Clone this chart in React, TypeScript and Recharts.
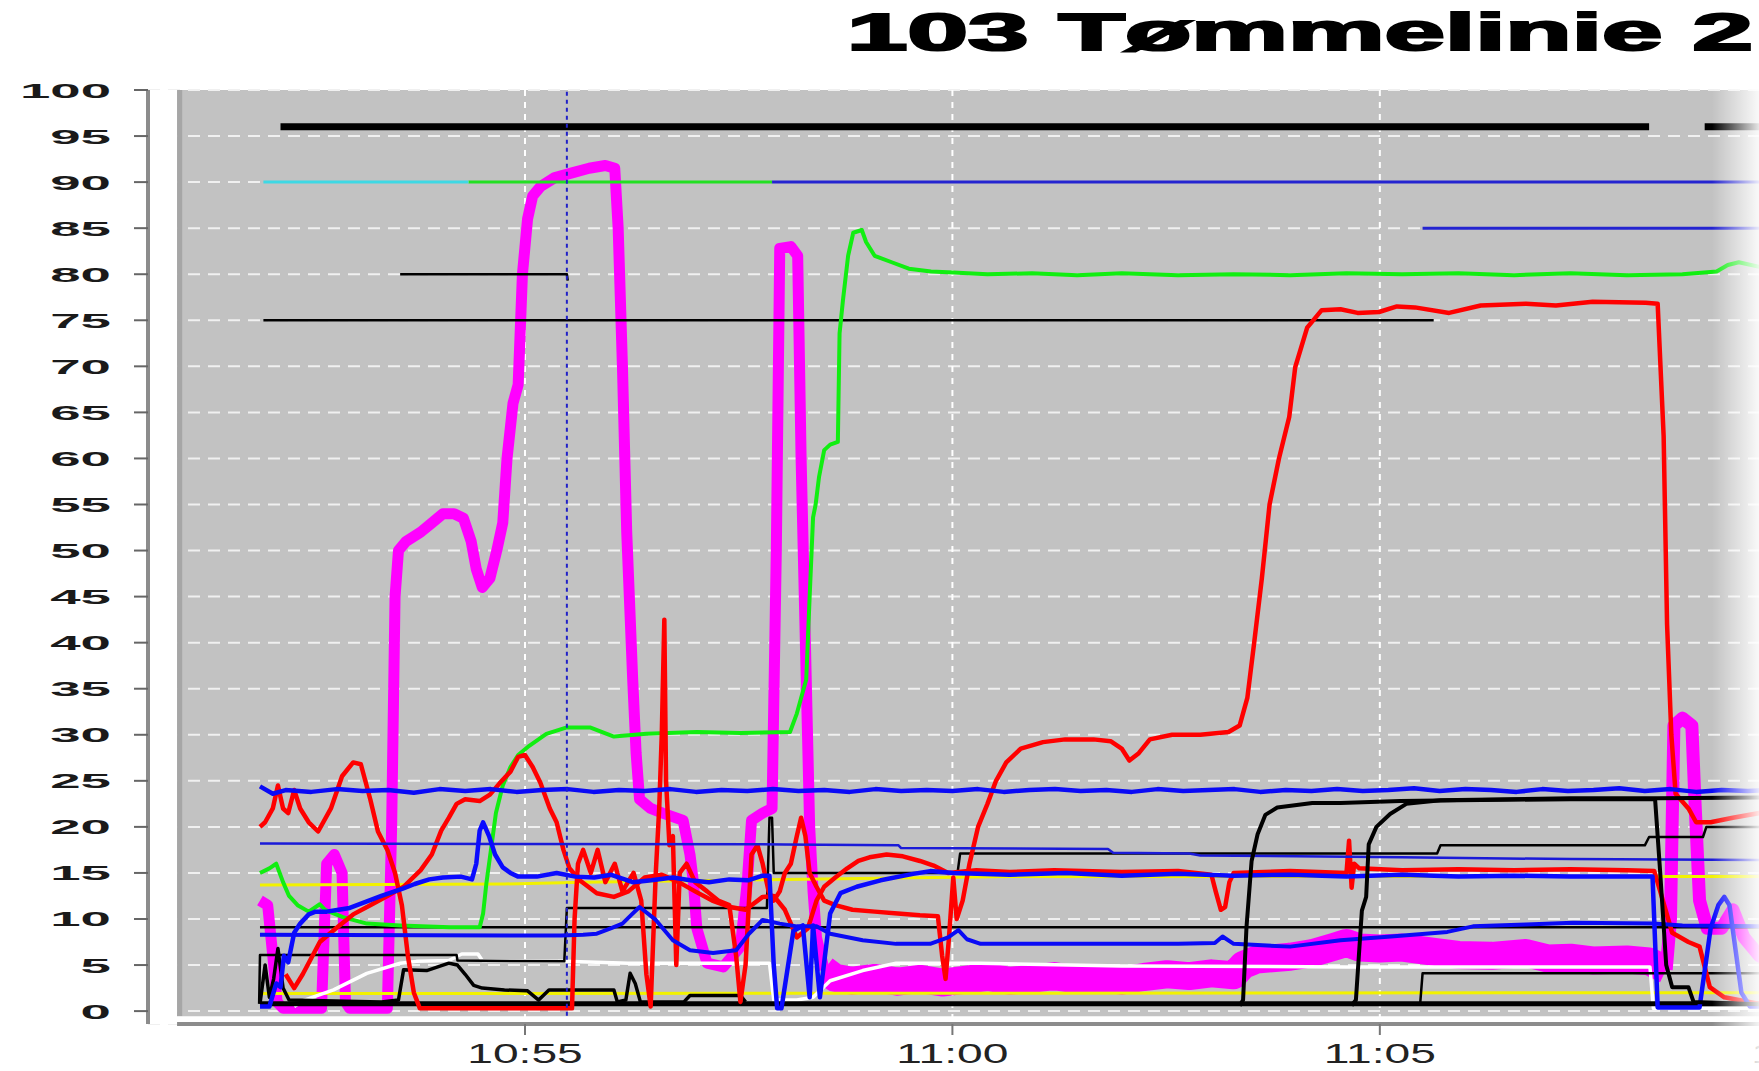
import { CartesianGrid, ComposedChart, Line, ReferenceArea, ReferenceLine, XAxis, YAxis } from 'recharts';

// time = minutes after 10:00, value = %
const title = '103 Tømmelinie 2';
const yTicks = [0, 5, 10, 15, 20, 25, 30, 35, 40, 45, 50, 55, 60, 65, 70, 75, 80, 85, 90, 95, 100];
const xTicks = [55, 60, 65, 70];
const xLabels: Record<number, string> = { 55: '10:55', 60: '11:00', 65: '11:05', 70: '11:10' };

const topBarA = [[52.14, 96], [68.15, 96]];
const topBarB = [[68.8, 96], [70.5, 96]];
const setCyan = [[51.94, 90], [54.34, 90]];
const setGreen = [[54.34, 90], [57.89, 90]];
const setBlue90 = [[57.89, 90], [70.5, 90]];
const setBlue85 = [[65.5, 85], [70.5, 85]];
const black80 = [[53.54, 80], [55.49, 80], [55.5, 79.3]];
const black75 = [[51.94, 75], [65.63, 75]];

const magentaMain = [
  [51.9, 12], [51.99, 11.5], [52.05, 6], [52.1, 1], [52.17, 0.3], [52.62, 0.3], [52.68, 16], [52.77, 17],
  [52.86, 15], [52.9, 1], [52.95, 0.3], [53.39, 0.3], [53.44, 20], [53.48, 45], [53.52, 50], [53.61, 51],
  [53.78, 52], [53.91, 53], [54.04, 54], [54.17, 54], [54.28, 53.5], [54.37, 51], [54.43, 48], [54.5, 46],
  [54.59, 47], [54.67, 50], [54.74, 53], [54.79, 60], [54.86, 66], [54.92, 68], [54.97, 80], [55.03, 86],
  [55.09, 88.5], [55.18, 89.5], [55.35, 90.5], [55.55, 91], [55.75, 91.5], [55.94, 91.8], [56.05, 91.5],
  [56.09, 85], [56.14, 70], [56.19, 52], [56.26, 36], [56.3, 28], [56.34, 23], [56.47, 22], [56.61, 21.5],
  [56.85, 20.7], [56.93, 17], [56.97, 14], [57.01, 9], [57.13, 5.2], [57.32, 4.8], [57.52, 7], [57.6, 14],
  [57.65, 20.7], [57.78, 21.5], [57.89, 22], [57.94, 50], [57.98, 82.8], [58.11, 83], [58.19, 82],
  [58.23, 60], [58.28, 40], [58.33, 20], [58.37, 13], [58.41, 8], [58.5, 4.5],
];
const magentaBand = [
  [58.5, 4.5], [58.63, 3.6], [58.83, 3.3], [59.09, 3.6], [59.36, 3.2], [59.62, 3.5], [59.88, 3.1], [60.14, 3.4],
  [60.41, 3.7], [60.67, 3.3], [60.93, 3.5], [61.19, 3.8], [61.46, 3.4], [61.72, 3.6], [61.98, 3.3], [62.24, 3.7],
  [62.51, 4.0], [62.77, 3.8], [63.03, 4.1], [63.29, 3.9], [63.4, 5.0], [63.56, 5.6], [63.95, 5.9], [64.21, 6.3],
  [64.47, 7.0], [64.61, 7.4], [64.76, 6.9], [65.0, 6.8], [65.26, 6.9], [65.66, 6.4], [65.92, 6.1], [66.31, 6.0],
  [66.71, 6.3], [66.97, 5.7], [67.23, 5.8], [67.49, 5.5], [67.89, 5.6], [68.15, 5.4], [68.35, 4.5],
];
const magentaTail = [
  [68.35, 4.5], [68.4, 10], [68.44, 31], [68.54, 31.8], [68.65, 31], [68.69, 22], [68.74, 12], [68.83, 9],
  [69.0, 9], [69.13, 11], [69.26, 8], [69.44, 6], [69.72, 5],
];

const green = [
  [51.9, 15], [52.01, 15.5], [52.09, 16], [52.17, 14], [52.24, 12.5], [52.34, 11.5], [52.47, 10.8], [52.6, 11.6],
  [52.66, 11], [52.87, 10.2], [53.15, 9.5], [53.54, 9.3], [54.12, 9.1], [54.47, 9.1], [54.51, 10.6], [54.55, 14],
  [54.59, 16.7], [54.66, 21.5], [54.74, 24.5], [54.83, 26.5], [54.92, 27.8], [55.05, 28.8], [55.25, 30.1],
  [55.49, 30.8], [55.76, 30.8], [56.04, 29.8], [56.42, 30.1], [57.01, 30.3], [57.52, 30.2], [58.1, 30.3],
  [58.18, 32.3], [58.29, 36], [58.33, 45], [58.37, 53.6], [58.4, 55], [58.44, 58], [58.5, 60.9], [58.57, 61.5],
  [58.66, 61.8], [58.68, 73.6], [58.72, 77.2], [58.78, 82], [58.84, 84.5], [58.94, 84.8], [58.99, 83.5],
  [59.09, 82], [59.29, 81.3], [59.49, 80.6], [59.75, 80.3], [60.01, 80.2], [60.41, 80.0], [60.93, 80.1],
  [61.46, 79.9], [61.98, 80.1], [62.64, 79.9], [63.29, 80.0], [63.95, 79.9], [64.61, 80.1], [65.26, 80.0],
  [65.92, 80.1], [66.57, 79.9], [67.23, 80.1], [67.89, 79.9], [68.54, 80.0], [68.94, 80.3], [69.07, 81.0],
  [69.2, 81.3], [69.44, 80.8], [70.5, 80.5],
];

const redMain = [
  [51.9, 20], [51.96, 20.5], [52.05, 22], [52.11, 24.5], [52.17, 22], [52.23, 21.5], [52.3, 24], [52.37, 22],
  [52.47, 20.5], [52.58, 19.5], [52.73, 22], [52.86, 25.5], [52.99, 27], [53.08, 26.8], [53.19, 23], [53.28, 19.5],
  [53.39, 17.5], [53.48, 15], [53.56, 11.5], [53.63, 6], [53.7, 2], [53.77, 0.3], [55.55, 0.3], [55.58, 10],
  [55.62, 16], [55.68, 17.5], [55.77, 15], [55.85, 17.5], [55.94, 14], [56.05, 16], [56.14, 13], [56.27, 15],
  [56.36, 12], [56.42, 4], [56.47, 0.5], [56.53, 15], [56.57, 22], [56.6, 30], [56.63, 42.5], [56.65, 25],
  [56.69, 18], [56.73, 19], [56.77, 5], [56.81, 15], [56.89, 16], [56.99, 14], [57.13, 13], [57.26, 12],
  [57.39, 11.5], [57.47, 6], [57.52, 1], [57.58, 5], [57.65, 17], [57.72, 18], [57.78, 16], [57.85, 13],
  [57.91, 12], [57.98, 13], [58.04, 15], [58.11, 16], [58.18, 19], [58.23, 21], [58.28, 19], [58.33, 15],
  [58.41, 13.5], [58.5, 12], [58.63, 11.5], [58.83, 11], [59.09, 10.8], [59.36, 10.6], [59.62, 10.4],
  [59.83, 10.3], [59.88, 6], [59.92, 3.5], [59.96, 8], [60.01, 14.5], [60.05, 10], [60.12, 12], [60.2, 16],
  [60.3, 20], [60.41, 22.5], [60.51, 25], [60.63, 27], [60.8, 28.5], [61.06, 29.2], [61.32, 29.5], [61.65, 29.5],
  [61.85, 29.3], [61.98, 28.5], [62.07, 27.2], [62.18, 28], [62.31, 29.5], [62.57, 30], [62.9, 30], [63.23, 30.3],
  [63.36, 31], [63.45, 34], [63.53, 40], [63.62, 47], [63.71, 55], [63.82, 60], [63.94, 64.5], [64.01, 69.9],
  [64.15, 74.2], [64.32, 76.1], [64.54, 76.2], [64.74, 75.8], [64.99, 75.9], [65.2, 76.5], [65.41, 76.4],
  [65.81, 75.8], [66.18, 76.6], [66.71, 76.8], [67.06, 76.6], [67.49, 77], [68.11, 76.9], [68.25, 76.8],
  [68.32, 62.4], [68.36, 42], [68.41, 30], [68.46, 23.6], [68.61, 22], [68.7, 20.5], [68.87, 20.5], [69.13, 21],
  [69.44, 21.5], [69.86, 22],
];
const redSecond = [
  [52.2, 4], [52.3, 2.5], [52.4, 4], [52.6, 7.5], [52.79, 9], [52.99, 10.5], [53.19, 11.5], [53.39, 12.5],
  [53.58, 13.5], [53.78, 15.3], [53.91, 17], [54.02, 19.6], [54.11, 21], [54.2, 22.5], [54.3, 23], [54.47, 22.8],
  [54.59, 23.5], [54.7, 24.7], [54.83, 26], [54.92, 27.6], [55.0, 27.8], [55.09, 26.5], [55.18, 24.8], [55.29, 22],
  [55.37, 20.5], [55.45, 17.5], [55.52, 15.5], [55.64, 14.2], [55.84, 12.8], [56.04, 12.4], [56.21, 13],
  [56.4, 14.5], [56.6, 14.8], [56.8, 14], [56.99, 13], [57.19, 12], [57.4, 11.3], [57.58, 11], [57.78, 12.4],
  [57.91, 12.5], [58.04, 11], [58.18, 8], [58.31, 9], [58.41, 12], [58.5, 13.5], [58.63, 14.5], [58.77, 15.5],
  [58.9, 16.3], [59.03, 16.7], [59.23, 17], [59.42, 16.8], [59.62, 16.3], [59.78, 15.8], [59.95, 15], [60.28, 15.3],
  [60.67, 15.1], [61.19, 15.3], [61.98, 15.1], [62.64, 15.2], [63.03, 14.8], [63.08, 13], [63.14, 11], [63.19, 11.3],
  [63.24, 14], [63.29, 15], [63.95, 15.2], [64.61, 15], [64.64, 18.5], [64.67, 13.4], [64.7, 16], [64.76, 15.5],
  [65.26, 15.3], [65.92, 15.4], [66.57, 15.3], [67.23, 15.4], [67.89, 15.3], [68.21, 15.2], [68.28, 13],
  [68.42, 8.5], [68.61, 7.5], [68.74, 7], [68.86, 2.6], [69.03, 1.5], [69.44, 0.8], [69.86, 0.6],
];

const blue24 = [
  [51.9, 24.4], [52.05, 23.6], [52.2, 24.0], [52.5, 23.8], [52.8, 24.1], [53.1, 23.9], [53.4, 24.0], [53.7, 23.7],
  [54.0, 24.1], [54.3, 23.9], [54.6, 24.1], [54.9, 23.8], [55.2, 24.0], [55.5, 24.1], [55.8, 23.8], [56.1, 24.0],
  [56.4, 23.9], [56.7, 24.1], [57.0, 23.8], [57.3, 24.0], [57.6, 23.9], [57.9, 24.1], [58.2, 23.9], [58.5, 24.0],
  [58.8, 23.8], [59.1, 24.1], [59.4, 23.9], [59.7, 24.0], [60.0, 23.9], [60.3, 24.1], [60.6, 23.8], [60.9, 24.0],
  [61.2, 24.1], [61.5, 23.9], [61.8, 24.0], [62.1, 23.8], [62.4, 24.1], [62.7, 23.9], [63.0, 24.0], [63.3, 24.1],
  [63.6, 23.8], [63.9, 24.0], [64.2, 23.9], [64.5, 24.1], [64.8, 23.9], [65.1, 24.0], [65.4, 24.2], [65.7, 23.9],
  [66.0, 24.1], [66.3, 24.0], [66.6, 23.8], [66.9, 24.1], [67.2, 23.9], [67.5, 24.0], [67.8, 24.2], [68.1, 23.9],
  [68.4, 24.1], [68.7, 23.8], [69.0, 24.0], [69.3, 23.9], [69.6, 24.0], [70.5, 24.0],
];
const blue18 = [
  [51.9, 18.2], [58.04, 18.1], [59.37, 18.0], [59.4, 17.7], [61.82, 17.6], [61.88, 17.2], [62.77, 17.1],
  [62.9, 16.9], [65.26, 16.7], [67.23, 16.5], [69.44, 16.4], [70.5, 16.4],
];
const blueFlow = [
  [51.9, 0.5], [52.01, 0.5], [52.09, 3], [52.14, 2.6], [52.18, 6], [52.23, 5.3], [52.3, 8.5], [52.37, 9.5],
  [52.47, 10.5], [52.55, 10.8], [52.68, 10.8], [52.82, 11], [52.95, 11.2], [53.12, 11.8], [53.32, 12.5],
  [53.57, 13.3], [53.71, 13.8], [53.88, 14.3], [54.04, 14.5], [54.25, 14.6], [54.38, 14.3], [54.43, 16],
  [54.47, 19.6], [54.51, 20.5], [54.58, 19], [54.65, 17], [54.74, 15.6], [54.83, 15], [54.92, 14.6], [55.14, 14.6],
  [55.37, 15], [55.59, 14.6], [55.81, 14.5], [56.01, 14.8], [56.26, 14], [56.48, 14.2], [56.73, 14.5],
  [56.93, 14.2], [57.15, 14], [57.39, 14.3], [57.61, 14.2], [57.78, 14.7], [57.86, 14.7], [57.91, 5], [57.95, 0.3],
  [58.0, 0.3], [58.14, 8.7], [58.25, 9.3], [58.33, 1.5], [58.37, 9.3], [58.45, 1.5], [58.57, 10.6], [58.69, 12.8],
  [58.88, 13.5], [59.16, 14.2], [59.54, 14.9], [59.74, 15.2], [60.01, 15], [60.67, 14.8], [61.33, 15.0],
  [61.98, 14.7], [62.64, 14.9], [63.29, 14.7], [63.95, 14.8], [64.61, 14.6], [65.26, 14.8], [65.92, 14.6],
  [66.57, 14.7], [67.23, 14.6], [68.19, 14.6], [68.25, 0.4], [68.74, 0.4], [68.87, 9], [68.96, 11.5],
  [69.03, 12.4], [69.09, 11.5], [69.23, 2], [69.33, 0.5], [69.86, 0.5],
];
const blueLow = [
  [51.9, 8.3], [55.42, 8.2], [55.68, 8.3], [55.84, 8.4], [56.01, 9], [56.14, 9.5], [56.25, 10.5], [56.34, 11.3],
  [56.53, 9.9], [56.73, 7.7], [56.93, 6.6], [57.2, 6.3], [57.47, 6.6], [57.62, 8.4], [57.78, 9.9], [57.98, 9.5],
  [58.18, 9.2], [58.41, 9.2], [58.57, 8.4], [58.95, 7.7], [59.34, 7.3], [59.74, 7.3], [59.95, 8], [60.07, 8.8],
  [60.17, 7.8], [60.33, 7.3], [61.33, 7.3], [62.64, 7.3], [63.07, 7.4], [63.16, 8.1], [63.29, 7.3], [63.95, 7.0],
  [64.54, 7.7], [65.13, 8.1], [65.79, 8.6], [66.09, 9.2], [66.71, 9.4], [67.26, 9.6], [68.2, 9.5], [68.54, 9.3],
  [69.44, 9.2], [70.5, 9.2],
];

const black9 = [[51.9, 9.1], [70.5, 9.1]];
const blackStep = [
  [51.89, 0.8], [51.9, 6.1], [54.2, 6.1], [54.21, 5.5], [55.46, 5.4], [55.49, 11.2], [57.83, 11.2], [57.86, 21],
  [57.89, 21], [57.91, 15], [60.06, 15], [60.09, 17.1], [65.67, 17.1], [65.71, 18], [68.1, 18], [68.15, 18.9],
  [68.78, 18.9], [68.82, 20], [70.5, 20],
];
const blackRiseA = [
  [63.36, 0.6], [63.4, 1.2], [63.44, 9.1], [63.5, 16.3], [63.57, 19.2], [63.66, 21.3], [63.8, 22.1], [64.21, 22.6],
  [64.54, 22.6], [65.24, 22.8], [65.92, 22.9], [67.23, 23.0], [68.22, 23.0], [68.28, 15], [68.35, 5], [68.42, 2.6],
  [68.61, 2.6], [68.67, 1], [69.86, 0.6],
];
const blackRiseB = [
  [64.67, 0.6], [64.72, 1.2], [64.79, 10.9], [64.84, 12.4], [64.87, 18.1], [64.96, 20], [65.12, 21.4],
  [65.31, 22.5], [65.71, 22.9], [67.23, 23.1], [68.25, 23.1], [69.44, 23.2], [70.5, 23.2],
];
const black4 = [[65.47, 0.6], [65.5, 4.1], [70.5, 4.1]];
const blackBase = [[51.9, 0.8], [70.5, 0.8]];
const blackSmall = [
  [51.9, 0.8], [51.96, 5], [52.01, 1.5], [52.06, 3.5], [52.11, 6.8], [52.17, 2.5], [52.24, 1.2], [53.32, 1],
  [53.52, 1.2], [53.58, 4.5], [53.85, 4.4], [54.11, 5.2], [54.21, 5], [54.3, 4], [54.4, 2.8], [54.5, 2.5],
  [54.76, 2.3], [55.03, 2.2], [55.16, 1.2], [55.28, 2.3], [56.04, 2.3], [56.08, 1], [56.18, 1.2], [56.23, 4.1],
  [56.29, 3], [56.35, 1], [56.86, 1], [56.93, 1.7], [57.52, 1.7], [57.58, 1],
];
const white = [
  [52.3, 0.5], [52.42, 1.2], [52.76, 2.3], [53.15, 4.1], [53.54, 5.2], [53.73, 5.4], [54.11, 5.5], [54.26, 6.2],
  [54.45, 6.2], [54.5, 5.5], [55.46, 5.4], [56.21, 5.2], [57.86, 5.2], [57.91, 1.2], [58.18, 1.2], [58.37, 1.5],
  [58.57, 3.3], [58.95, 4.4], [59.34, 5.2], [60.33, 5.2], [61.98, 4.9], [64.61, 4.8], [68.16, 4.8], [68.2, 0.3],
  [69.44, 0.3],
];
const yellowHigh = [[51.9, 13.7], [54.76, 13.8], [55.68, 14.0], [58.04, 14.3], [60.67, 14.6], [70.5, 14.6]];
const yellowLow = [[51.9, 1.9], [70.5, 2.0]];

const pts = (rows: number[][]) => rows.map(([t, v]) => ({ t, v }));

const series = [
  { name: 'magentaBand', rows: magentaBand, color: '#ff00ff', width: 28 },
  { name: 'magentaMain', rows: magentaMain, color: '#ff00ff', width: 11 },
  { name: 'magentaTail', rows: magentaTail, color: '#ff00ff', width: 13 },
  { name: 'yellowLow', rows: yellowLow, color: '#f2f200', width: 3 },
  { name: 'yellowHigh', rows: yellowHigh, color: '#f2f200', width: 3 },
  { name: 'white', rows: white, color: '#ffffff', width: 3.5 },
  { name: 'blackBase', rows: blackBase, color: '#000000', width: 5 },
  { name: 'blackSmall', rows: blackSmall, color: '#000000', width: 3.5 },
  { name: 'black9', rows: black9, color: '#000000', width: 2.5 },
  { name: 'black4', rows: black4, color: '#000000', width: 2.5 },
  { name: 'blackStep', rows: blackStep, color: '#000000', width: 2.5 },
  { name: 'black75', rows: black75, color: '#000000', width: 2.5 },
  { name: 'black80', rows: black80, color: '#000000', width: 2.5 },
  { name: 'green', rows: green, color: '#11ee11', width: 4 },
  { name: 'redSecond', rows: redSecond, color: '#ff0000', width: 4.5 },
  { name: 'redMain', rows: redMain, color: '#ff0000', width: 4.5 },
  { name: 'blue18', rows: blue18, color: '#1a1ad8', width: 2.5 },
  { name: 'blueLow', rows: blueLow, color: '#0a0af5', width: 4 },
  { name: 'blueFlow', rows: blueFlow, color: '#0a0aff', width: 4.5 },
  { name: 'blue24', rows: blue24, color: '#0a0af5', width: 4.5 },
  { name: 'setCyan', rows: setCyan, color: '#3ed8e4', width: 3 },
  { name: 'setGreen', rows: setGreen, color: '#22e022', width: 3 },
  { name: 'setBlue90', rows: setBlue90, color: '#2424d0', width: 3 },
  { name: 'setBlue85', rows: setBlue85, color: '#2424d0', width: 3 },
  { name: 'topBarA', rows: topBarA, color: '#000000', width: 7 },
  { name: 'topBarB', rows: topBarB, color: '#000000', width: 7 },
  { name: 'blackRiseA', rows: blackRiseA, color: '#000000', width: 4 },
  { name: 'blackRiseB', rows: blackRiseB, color: '#000000', width: 4 },
];

const YTick = ({ x, y, payload }: any) => (
  <g transform={`translate(${x},${y})`}>
    <text
      x={0}
      y={0}
      dy={7.5}
      textAnchor="end"
      transform="scale(2.6,1)"
      fontFamily="'Liberation Sans', Arial, sans-serif"
      fontWeight={700}
      fontSize={21}
      fill="#1a1a1a"
    >
      {payload.value}
    </text>
  </g>
);

const XTick = ({ x, y, payload }: any) => (
  <g transform={`translate(${x},${y})`}>
    <text
      x={0}
      y={0}
      dy={26}
      textAnchor="middle"
      transform="scale(1.65,1)"
      fontFamily="'Liberation Sans', Arial, sans-serif"
      fontSize={28}
      fill="#222"
    >
      {xLabels[payload.value]}
    </text>
  </g>
);

export default function App() {
  return (
    <div
      style={{
        position: 'fixed',
        left: 0,
        top: 0,
        width: 1759,
        height: 1071,
        overflow: 'hidden',
        background: '#fff',
      }}
    >
      <ComposedChart width={1860} height={1071} margin={{ top: 90, right: 10, bottom: 2, left: 18 }}>
        <CartesianGrid
          vertical={false}
          fill="#c2c2c2"
          stroke="#f0f0f0"
          strokeWidth={2}
          strokeDasharray="12 8"
        />
        <CartesianGrid horizontal={false} stroke="#ffffff" strokeWidth={2} strokeDasharray="6 6" />
        <XAxis
          type="number"
          dataKey="t"
          domain={[50.59, 70.5]}
          allowDataOverflow
          ticks={xTicks}
          tick={(p: any) => <XTick {...p} />}
          axisLine={false}
          tickLine={{ stroke: '#777', strokeWidth: 2 }}
          tickSize={11}
          height={45}
        />
        <YAxis
          type="number"
          domain={[-1.4, 100]}
          allowDataOverflow
          ticks={yTicks}
          tick={(p: any) => <YTick {...p} />}
          axisLine={{ stroke: '#8c8c8c', strokeWidth: 4 }}
          tickLine={{ stroke: '#666', strokeWidth: 2 }}
          tickSize={14}
          tickMargin={23}
          width={130}
        />
        <ReferenceArea x1={50.59} x2={50.93} y1={-1.4} y2={100} fill="#ffffff" fillOpacity={1} stroke="none" />
        <ReferenceArea x1={50.93} x2={50.99} y1={-0.55} y2={100} fill="#a6a6a6" fillOpacity={1} stroke="none" />
        <ReferenceArea x1={50.59} x2={70.5} y1={-1.4} y2={-0.55} fill="#ffffff" fillOpacity={1} stroke="none" />
        <ReferenceLine
          segment={[
            { x: 50.93, y: -1.4 },
            { x: 70.5, y: -1.4 },
          ]}
          stroke="#8c8c8c"
          strokeWidth={4}
        />
        {series.map((s) => (
          <Line
            key={s.name}
            data={pts(s.rows)}
            dataKey="v"
            type="linear"
            stroke={s.color}
            strokeWidth={s.width}
            strokeLinejoin="round"
            dot={false}
            activeDot={false}
            isAnimationActive={false}
          />
        ))}
        <ReferenceLine
          segment={[
            { x: 55.49, y: -0.5 },
            { x: 55.49, y: 100 },
          ]}
          stroke="#2020c8"
          strokeWidth={2}
          strokeDasharray="4 4"
        />
      </ComposedChart>
      <svg width={1759} height={80} style={{ position: 'absolute', left: 0, top: 0 }}>
        <text
          transform="translate(847,50) scale(2.09,1)"
          fontFamily="'Liberation Sans', Arial, sans-serif"
          fontWeight={700}
          fontSize={52}
          fill="#000"
          stroke="#000"
          strokeWidth={2.2}
        >
          {title}
        </text>
      </svg>
      <div
        style={{
          position: 'absolute',
          left: 1712,
          top: 70,
          width: 47,
          height: 1001,
          background: 'linear-gradient(to right, rgba(255,255,255,0), rgba(255,255,255,0.9))',
        }}
      />
    </div>
  );
}
